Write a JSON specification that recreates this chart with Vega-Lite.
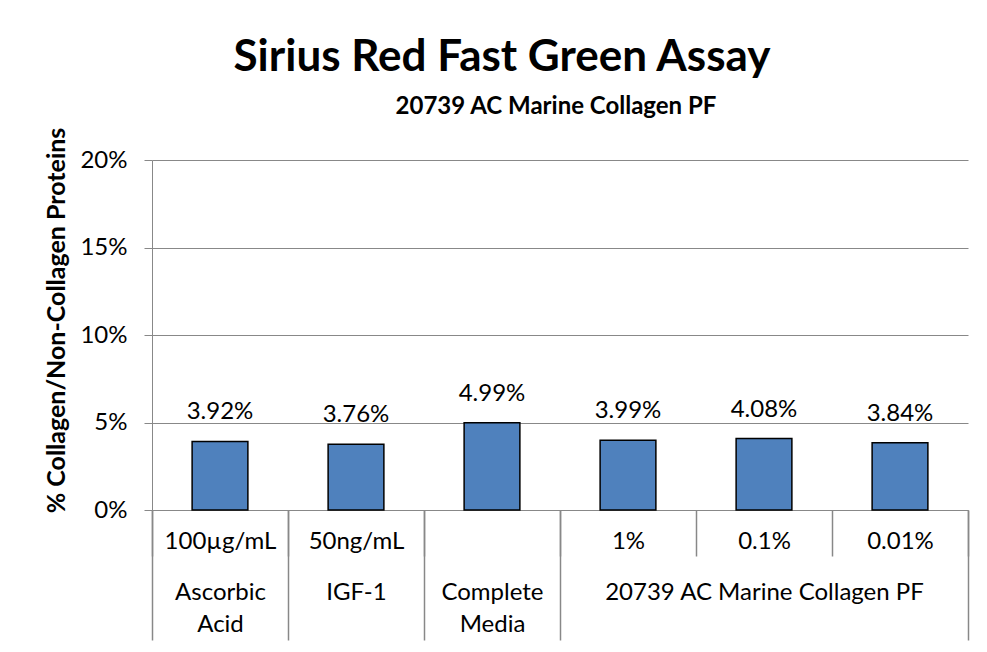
{
  "$schema": "https://vega.github.io/schema/vega-lite/v6.json",
  "width": 816,
  "height": 350,
  "autosize": "none",
  "padding": {"left": 152, "top": 160, "right": 19, "bottom": 142},
  "background": "white",
  "config": {"view": {"stroke": null}, "font": "Lato"},
  "title": {
    "text": "Sirius Red Fast Green Assay",
    "font": "Lato",
    "fontSize": 44,
    "fontWeight": "bold",
    "color": "black",
    "anchor": "middle",
    "frame": "group",
    "dx": -58,
    "offset": 14
  },
  "data": {
    "values": [
      {"key": "100µg/mL|Ascorbic|Acid", "value": 0.0392},
      {"key": "50ng/mL|IGF-1", "value": 0.0376},
      {"key": "|Complete|Media", "value": 0.0499},
      {"key": "1%|", "value": 0.0399},
      {"key": "0.1%|20739 AC Marine Collagen PF", "value": 0.0408},
      {"key": "0.01%|", "value": 0.0384}
    ]
  },
  "layer": [
    {
      "mark": {"type": "bar", "width": {"band": 0.41}, "fill": "#4f81bd", "stroke": "black", "strokeWidth": 1.5},
      "encoding": {
        "x": {
          "field": "key", "type": "nominal", "sort": null,
          "scale": {"paddingInner": 0, "paddingOuter": 0},
          "axis": {
            "orient": "bottom", "title": null, "grid": false,
            "domain": true, "domainColor": "#888888", "domainWidth": 1,
            "ticks": true, "tickBand": "extent", "tickSize": 46, "tickColor": "#888888", "tickWidth": 1.5,
            "labelExpr": "split(datum.label, '|')[0]",
            "labelFont": "Lato", "labelFontSize": 24, "labelColor": "black",
            "labelAngle": 0, "labelPadding": -27, "labelOverlap": false, "labelLimit": 0
          }
        },
        "y": {
          "field": "value", "type": "quantitative",
          "scale": {"domain": [0, 0.2], "nice": false},
          "axis": {
            "orient": "left",
            "values": [0, 0.05, 0.1, 0.15, 0.2], "format": ".0%",
            "grid": true, "gridColor": "#888888", "gridWidth": 1,
            "domain": true, "domainColor": "#888888",
            "ticks": true, "tickColor": "#888888", "tickSize": 8,
            "labelFont": "Lato", "labelFontSize": 24, "labelColor": "black", "labelPadding": 17,
            "title": "% Collagen/Non-Collagen Proteins",
            "titleFont": "Lato", "titleFontSize": 25, "titleFontWeight": "bold", "titleColor": "black",
            "titleX": -96, "titleY": 160, "titleAngle": 270, "titleAlign": "center", "titleBaseline": "middle"
          }
        }
      }
    },
    {
      "mark": {"type": "text", "font": "Lato", "fontSize": 24, "baseline": "alphabetic", "dy": -22, "color": "black"},
      "encoding": {
        "x": {
          "field": "key", "type": "nominal", "sort": null,
          "scale": {"paddingInner": 0, "paddingOuter": 0},
          "axis": {
            "orient": "bottom", "title": null, "grid": false, "domain": false,
            "ticks": true, "tickBand": "extent", "tickSize": 130, "tickColor": "#888888", "tickWidth": 1.5,
            "tickOpacity": {"condition": {"test": "datum.value == '0.1%|20739 AC Marine Collagen PF' || datum.value == '1%|'", "value": 0}, "value": 1},
            "labelExpr": "slice(split(datum.label, '|'), 1)",
            "labelFont": "Lato", "labelFontSize": 24, "labelColor": "black", "labelLineHeight": 32,
            "labelAngle": 0, "labelPadding": -60, "labelOverlap": false, "labelLimit": 0
          }
        },
        "y": {"field": "value", "type": "quantitative", "axis": null},
        "text": {"field": "value", "type": "quantitative", "format": ".2%"}
      }
    },
    {
      "mark": {"type": "text", "text": ""},
      "encoding": {
        "x": {
          "field": "key", "type": "nominal", "sort": null,
          "scale": {"paddingInner": 0, "paddingOuter": 0},
          "axis": {
            "orient": "top", "grid": false, "domain": false, "ticks": false, "labels": false,
            "title": "20739 AC Marine Collagen PF",
            "titleFont": "Lato", "titleFontSize": 24, "titleFontWeight": "bold", "titleColor": "black",
            "titleX": 403.5, "titleY": -47, "titleBaseline": "alphabetic", "titleAlign": "center"
          }
        },
        "y": {"field": "value", "type": "quantitative", "axis": null}
      }
    }
  ],
  "resolve": {"axis": {"x": "independent", "y": "independent"}}
}
